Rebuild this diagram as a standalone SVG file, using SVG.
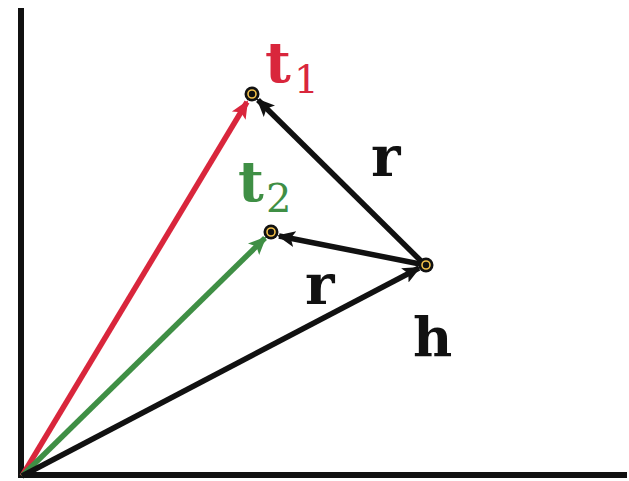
<svg xmlns="http://www.w3.org/2000/svg" width="629" height="481" viewBox="0 0 629 481">
<defs>
<style>
.ax{stroke:#111;stroke-width:6;fill:none}
.v{stroke-width:5.5;fill:none}
.lbl{font-family:"DejaVu Serif","Liberation Serif",serif;font-weight:bold}
.sub{font-family:"DejaVu Serif","Liberation Serif",serif;font-weight:normal}
</style>
<marker id="ak" markerUnits="userSpaceOnUse" markerWidth="20" markerHeight="20" viewBox="0 0 20 20" refX="16" refY="10" orient="auto"><path d="M0,2 L18,10 L0,18 L4,10 Z" fill="#111"/></marker>
<marker id="ar" markerUnits="userSpaceOnUse" markerWidth="20" markerHeight="20" viewBox="0 0 20 20" refX="16" refY="10" orient="auto"><path d="M0,2 L18,10 L0,18 L4,10 Z" fill="#d9263c"/></marker>
<marker id="ag" markerUnits="userSpaceOnUse" markerWidth="20" markerHeight="20" viewBox="0 0 20 20" refX="16" refY="10" orient="auto"><path d="M0,2 L18,10 L0,18 L4,10 Z" fill="#3f8f45"/></marker>
<g id="pt"><circle r="7.5" fill="#111"/><circle r="4" fill="none" stroke="#f2c04a" stroke-width="1.6"/></g>
</defs>
<g id="axes">
<line class="ax" x1="21" y1="8" x2="21" y2="478"/>
<line class="ax" x1="18" y1="475" x2="627" y2="475"/>
</g>
<g id="connectors">
<line class="v" stroke="#d9263c" x1="22" y1="476" x2="247" y2="102" marker-end="url(#ar)"/>
<line class="v" stroke="#3f8f45" x1="22" y1="476" x2="265" y2="238" marker-end="url(#ag)"/>
<line class="v" stroke="#111" x1="22" y1="476" x2="419" y2="268" marker-end="url(#ak)"/>
<line class="v" stroke="#111" x1="421" y1="261" x2="258" y2="100" marker-end="url(#ak)"/>
<line class="v" stroke="#111" x1="420" y1="264" x2="279" y2="236" marker-end="url(#ak)"/>
</g>
<g id="t1"><use href="#pt" x="252" y="94"/><text x="265" y="82" class="lbl" fill="#d9263c" font-size="56">t</text><text x="294" y="93" class="sub" fill="#d9263c" font-size="39">1</text></g>
<g id="t2"><use href="#pt" x="271" y="232"/><text x="238" y="201" class="lbl" fill="#3f8f45" font-size="56">t</text><text x="266" y="212" class="sub" fill="#3f8f45" font-size="40">2</text></g>
<g id="h"><use href="#pt" x="426" y="265"/><text x="413" y="356" class="lbl" fill="#111" font-size="54">h</text></g>
<g id="labels">
<text x="371" y="176" class="lbl" fill="#111" font-size="56">r</text>
<text x="305" y="304" class="lbl" fill="#111" font-size="56">r</text>
</g>
</svg>
